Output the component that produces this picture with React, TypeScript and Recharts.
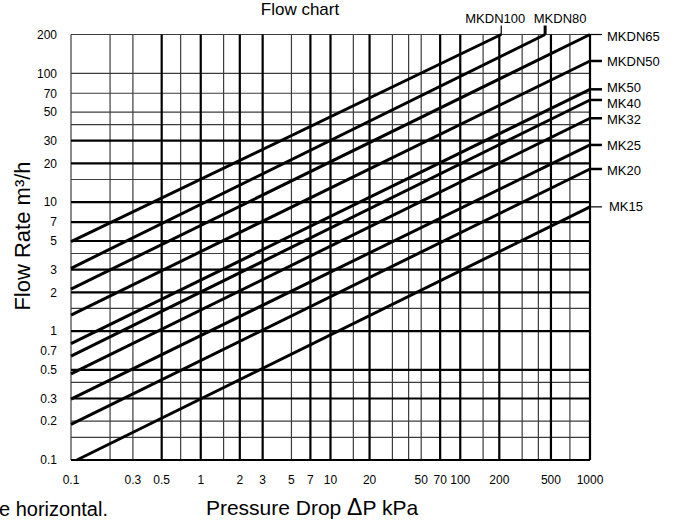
import React from 'react';
import { LineChart, Line, XAxis, YAxis, ReferenceLine } from 'recharts';

// tick labels
const xTicks = [0.1, 0.3, 0.5, 1, 2, 3, 5, 7, 10, 20, 50, 70, 100, 200, 500, 1000];
const yTicks = [0.1, 0.2, 0.3, 0.5, 0.7, 1, 2, 3, 5, 7, 10, 20, 30, 50, 70, 100, 200];

// grid rulings (heavy and light)
const xGridHeavy = [0.5, 1, 2, 3, 7, 10, 20, 70, 100, 200, 500, 1000];
const xGridLight = [0.1, 0.2, 0.3, 0.7, 1.5, 5, 15, 30, 40, 50, 150, 300, 400, 700];
const yGridHeavy = [0.1, 0.3, 0.5, 1, 2, 3, 5, 7, 10, 20, 30];
const yGridLight = [0.15, 0.2, 0.4, 1.5, 4, 15, 40, 50, 70, 100, 200];

// valve models, with start / end of each flow line (ΔP kPa, flow m³/h)
const models = ['MKDN100', 'MKDN80', 'MKDN65', 'MKDN50', 'MK50', 'MK40', 'MK32', 'MK25', 'MK20', 'MK15'];
const dpStart = [0.1, 0.1, 0.1, 0.1, 0.1, 0.1, 0.1, 0.1, 0.1, 0.111];
const qStart = [4.94, 3.07, 2.12, 1.33, 0.8, 0.64, 0.465, 0.297, 0.189, 0.1];
const dpEnd = [207, 451, 1000, 1000, 1000, 1000, 1000, 1000, 1000, 1000];
const qEnd = [200, 200, 200, 124.6, 75.1, 62.1, 44.8, 27.8, 18.1, 9.2];

const FONT = '"Liberation Sans", Arial, Helvetica, sans-serif';

type LabelStyle = { side: 'top' | 'right'; dx: number; dy: number; w: number };
const labelStyle: Record<string, LabelStyle> = {
  MKDN100: { side: 'top', dx: -6, dy: 0, w: 1.2 },
  MKDN80: { side: 'top', dx: 15, dy: 0, w: 3 },
  MKDN65: { side: 'right', dx: 0, dy: 2, w: 1.2 },
  MKDN50: { side: 'right', dx: 0, dy: 0, w: 2.5 },
  MK50: { side: 'right', dx: 0, dy: -1.6, w: 2.5 },
  MK40: { side: 'right', dx: 0, dy: 3.3, w: 2.5 },
  MK32: { side: 'right', dx: 0, dy: 1.5, w: 2.5 },
  MK25: { side: 'right', dx: 0, dy: 0.5, w: 2.5 },
  MK20: { side: 'right', dx: 0, dy: 1.5, w: 2.5 },
  MK15: { side: 'right', dx: 2, dy: 0, w: 1.2 },
};

const seriesData = models.map((name, i) => [
  { dp: dpStart[i], q: qStart[i] },
  { dp: dpEnd[i], q: qEnd[i] },
]);

const endLabel = (name: string) => (props: any) => {
  const { x, y, index } = props;
  if (index !== 1) return null;
  const st = labelStyle[name];
  if (st.side === 'top') {
    return (
      <g key={`lbl-${name}`}>
        <line x1={x} y1={y} x2={x} y2={y - 9} stroke="#000" strokeWidth={st.w} />
        <text x={x + st.dx} y={y - 12} textAnchor="middle" fontSize={13} fontFamily={FONT} fill="#000">
          {name}
        </text>
      </g>
    );
  }
  return (
    <g key={`lbl-${name}`}>
      <line x1={x} y1={y} x2={x + 12} y2={y} stroke="#000" strokeWidth={st.w} />
      <text x={x + 17 + st.dx} y={y + st.dy + 4.6} fontSize={13} fontFamily={FONT} fill="#000">
        {name}
      </text>
    </g>
  );
};

const tickStyle = { fontSize: 12, fill: '#000', fontFamily: FONT };

export default function App() {
  return (
    <div style={{ position: 'absolute', left: 0, top: 0, width: 675, height: 522, background: '#fff' }}>
      <LineChart width={675} height={522} margin={{ top: 34.5, right: 85, bottom: 32, left: 0 }}>
        <XAxis
          dataKey="dp"
          type="number"
          scale="log"
          domain={[0.1, 1000]}
          ticks={xTicks}
          interval={0}
          axisLine={false}
          tickLine={false}
          tickSize={0}
          tickMargin={15}
          height={30}
          tick={tickStyle}
          allowDuplicatedCategory={false}
        />
        <YAxis
          dataKey="q"
          type="number"
          scale="log"
          domain={[0.1, 200]}
          ticks={yTicks}
          interval={0}
          axisLine={false}
          tickLine={false}
          tickSize={0}
          tickMargin={14}
          width={71}
          tick={tickStyle}
        />
        {xGridLight.map((v) => (
          <ReferenceLine key={`xl-${v}`} x={v} stroke="#3c3c3c" strokeWidth={1.2} />
        ))}
        {yGridLight.map((v) => (
          <ReferenceLine key={`yl-${v}`} y={v} stroke="#3c3c3c" strokeWidth={1.2} />
        ))}
        {xGridHeavy.map((v) => (
          <ReferenceLine key={`xh-${v}`} x={v} stroke="#000" strokeWidth={2.2} />
        ))}
        {yGridHeavy.map((v) => (
          <ReferenceLine key={`yh-${v}`} y={v} stroke="#000" strokeWidth={2.2} />
        ))}
        {models.map((name, i) => (
          <Line
            key={name}
            data={seriesData[i]}
            dataKey="q"
            type="linear"
            stroke="#000"
            strokeWidth={3}
            dot={false}
            activeDot={false}
            isAnimationActive={false}
            label={endLabel(name)}
          />
        ))}
      </LineChart>
      <svg width={675} height={522} style={{ position: 'absolute', left: 0, top: 0, pointerEvents: 'none' }}>
        <text x={300} y={15} textAnchor="middle" fontSize={17} fontFamily={FONT} fill="#000">
          Flow chart
        </text>
        <text
          x={0}
          y={0}
          transform="translate(30 236) rotate(-90)"
          textAnchor="middle"
          fontSize={22}
          fontFamily={FONT}
          fill="#000"
        >
          Flow Rate m³/h
        </text>
        <text x={312} y={515} textAnchor="middle" fontSize={21} fontFamily={FONT} fill="#000">
          Pressure Drop <tspan fontSize={23}>Δ</tspan>P kPa
        </text>
        <text x={-1} y={516} fontSize={20} fontFamily={FONT} fill="#000">
          e horizontal.
        </text>
      </svg>
    </div>
  );
}
